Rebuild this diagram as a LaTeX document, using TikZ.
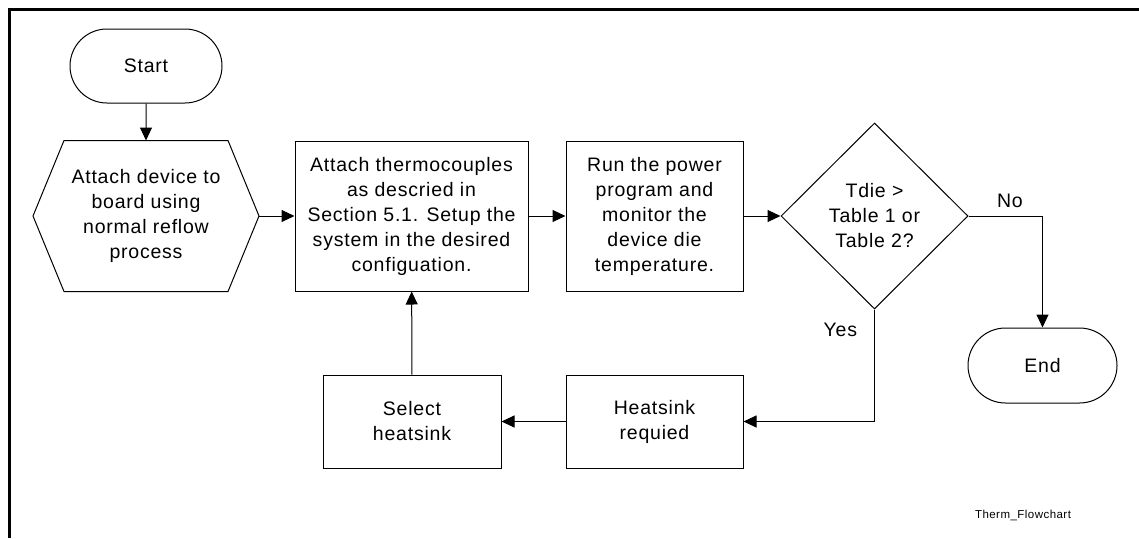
\documentclass[tikz,border=0pt]{standalone}
\usepackage{fontspec}
\setmainfont{Liberation Sans}[LetterSpace=4]
\usetikzlibrary{shapes.geometric,shapes.misc,arrows.meta,calc}

\begin{document}
\begin{tikzpicture}[x=1pt,y=-1pt,
    line width=1pt,
    txt/.style={font=\fontsize{19.5}{25}\selectfont,align=center,inner sep=0pt},
    term/.style={txt,draw,rounded rectangle,minimum width=152pt,minimum height=74pt},
    procbox/.style={txt,draw,rectangle,minimum width=177pt,minimum height=150pt},
    smallbox/.style={txt,draw,rectangle,minimum width=178pt,minimum height=93pt},
    decide/.style={txt,draw,diamond,minimum width=187pt,minimum height=186pt},
    arr/.style={-{Triangle[length=13pt,width=12pt]}}]
  \useasboundingbox (0,0) rectangle (1139,538);
  \draw[line width=3pt] (1139,9) -- (9,9) -- (9,538);

  \node[term] (start) at (146,66) {Start};
  \node[txt,minimum width=225pt,minimum height=150pt] (attach) at (146,216)
    {Attach device to\\board using\\normal reflow\\process};
  \draw ($(attach.north west)+(31,0)$) -- ($(attach.north east)+(-31,0)$) -- (attach.east)
    -- ($(attach.south east)+(-31,0)$) -- ($(attach.south west)+(31,0)$) -- (attach.west) -- cycle;
  \node[procbox,minimum width=233pt] (thermo) at (411.5,216)
    {Attach thermocouples\\as descried in\\Section 5.1. Setup the\\system in the desired\\configuation.};
  \node[procbox] (power) at (654.5,216)
    {Run the power\\program and\\monitor the\\device die\\temperature.};
  \node[decide] (tdie) at (874.5,216) {Tdie >\\Table 1 or\\Table 2?};
  \node[term,minimum width=149pt,minimum height=75pt] (end) at (1042.5,365.5) {End};
  \node[smallbox,minimum width=177pt] (required) at (654.5,421.5) {Heatsink\\requied};
  \node[smallbox] (select) at (412,421.5) {Select\\heatsink};

  \draw[arr] (start) -- (attach);
  \draw[arr] (attach) -- (thermo);
  \draw[arr] (thermo) -- (power);
  \draw[arr] (power) -- (tdie);
  \draw[arr] (tdie.east) -| (end.north)
    node[txt,pos=0.28,above=8pt] {No};
  \draw[arr] (tdie.south) |- (required.east)
    node[txt,pos=0.09,left=17pt] {Yes};
  \draw[arr] (required) -- (select);
  \draw[arr] (select) -- (thermo);

  \node[font=\fontsize{11.5}{13}\selectfont] (label) at (1023,515) {Therm\_Flowchart};
\end{tikzpicture}
\end{document}
